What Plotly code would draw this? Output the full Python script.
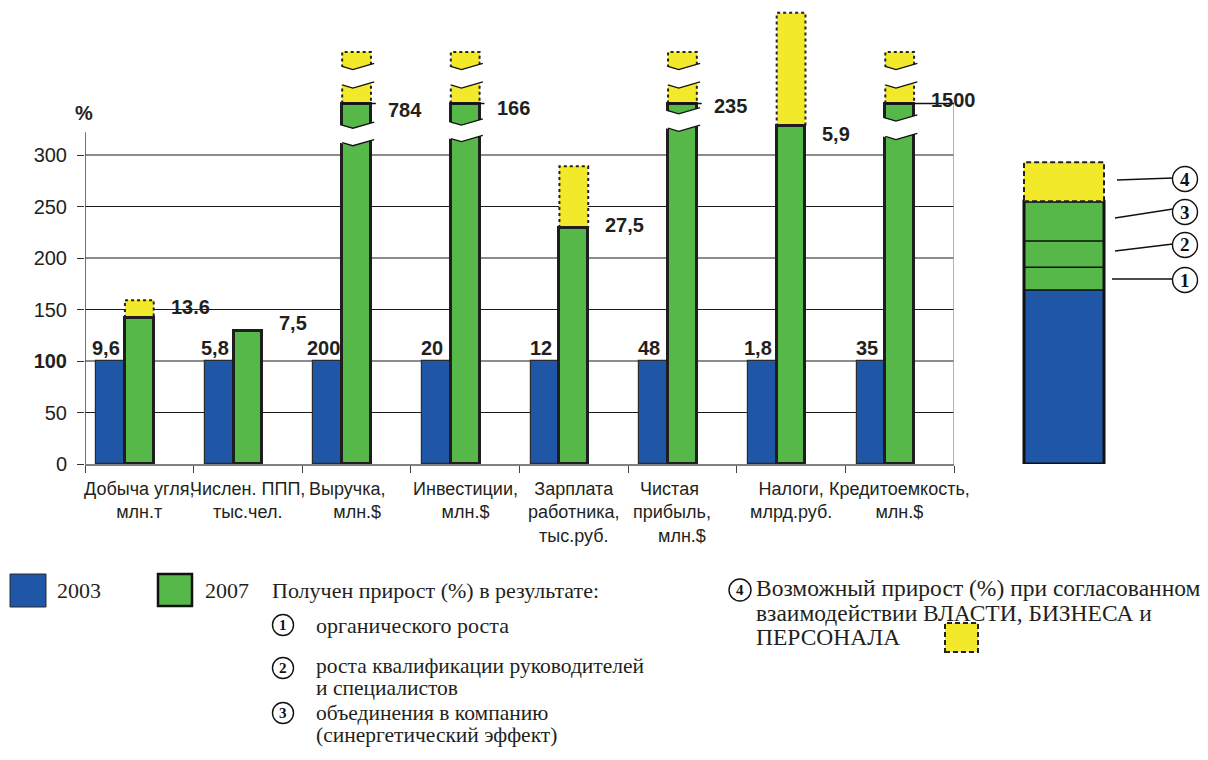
import plotly.graph_objects as go

# --- data -----------------------------------------------------------------
categories = [
    "Добыча угля,<br>млн.т",
    "Числен. ППП,<br>тыс.чел.",
    "Выручка,<br>млн.$",
    "Инвестиции,<br>млн.$",
    "Зарплата<br>работника,<br>тыс.руб.",
    "Чистая<br>прибыль,<br>млн.$",
    "Налоги,<br>млрд.руб.",
    "Кредитоемкость,<br>млн.$",
]
values_2003 = [9.6, 5.8, 200, 20, 12, 48, 1.8, 35]
values_2007 = [13.6, 7.5, 784, 166, 27.5, 235, 5.9, 1500]
labels_2003 = ["9,6", "5,8", "200", "20", "12", "48", "1,8", "35"]
labels_2007 = ["13.6", "7,5", "784", "166", "27,5", "235", "5,9", "1500"]
# top of the possible-growth extension, % (broken columns end at 400 on the cut scale)
possible_top = [159, None, 400, 400, 289, 400, 438, 400]
y_ticks = [0, 50, 100, 150, 200, 250, 300]

# --- styling / layout constants -------------------------------------------
BLUE = "#1f56a5"
GREEN = "#55b848"
YELLOW = "#f2e92b"
INK = "#231f20"
SANS = "Liberation Sans, Arial, sans-serif"
SERIF = "Liberation Serif, Times New Roman, serif"

CAP = 350            # columns above this value are drawn cut
W = 0.265            # bar width in category units
PX_PER_UNIT = 1.03   # vertical pixels per percent
PLOT_L, PLOT_R, PLOT_B = 85, 954, 464
PLOT_W = PLOT_R - PLOT_L
Y_MAX = PLOT_B / PX_PER_UNIT

# break positions (lower, upper edge of the white gap) for cut columns
green_gap = {2: (312, 329), 3: (316, 332), 5: (326, 343), 7: (318, 336)}
yellow_gap = (368, 386)
label_dy = [11, 8, -6, -4, 3, -2, -8, 4]   # vertical nudge of 2007 labels, px
# trailing padding (non-breaking spaces) per line of a category label
label_pad = {2: [4, 0], 5: [5, 4, 0]}

base_2003 = [100.0] * len(values_2003)
pct_2007 = [b / a * 100 for a, b in zip(values_2003, values_2007)]
shown = [min(p, CAP) for p in pct_2007]
broken = [p > CAP for p in pct_2007]

n = len(categories)
xc = [i + 0.5 for i in range(n)]
xb = [c - W for c in xc]


def xp(px):
    return (px - PLOT_L) / PLOT_W


def yp(py):
    return (PLOT_B - py) / PLOT_B


fig = go.Figure()

# yellow extension (fill only; dotted outline drawn separately)
yx, yb, yh = [], [], []
for i in range(n):
    if possible_top[i] is not None:
        yx.append(xc[i])
        yb.append(shown[i])
        yh.append(possible_top[i] - shown[i])
fig.add_trace(go.Bar(x=yx, y=yh, base=yb, width=W, marker=dict(color=YELLOW, line=dict(width=0)),
                     hoverinfo="skip", showlegend=False))

fig.add_trace(go.Bar(x=xb, y=base_2003, width=W, name="2003",
                     marker=dict(color=BLUE, line=dict(color="#2b2b2b", width=1.2)), showlegend=False))
fig.add_trace(go.Bar(x=xc, y=shown, width=W, name="2007",
                     marker=dict(color=GREEN, line=dict(color="#1e1e1e", width=3)), showlegend=False))

# dotted outline of the yellow extensions
ox, oy = [], []
for i in range(n):
    if possible_top[i] is None:
        continue
    l, r = xc[i] - W / 2, xc[i] + W / 2
    ox += [l, l, r, r, None]
    oy += [shown[i], possible_top[i], possible_top[i], shown[i], None]
fig.add_trace(go.Scatter(x=ox, y=oy, mode="lines", line=dict(color="#222", width=2, dash="3px,3px"),
                         hoverinfo="skip", showlegend=False))


def zig(l, r, y):
    return [l, l + 0.37 * (r - l), r + 0.03], [y, y - 3, y + 3]


# white gaps and zigzag edges of the cut columns
gx, gy, zx, zy, tx, ty = [], [], [], [], [], []
for i in range(n):
    if not broken[i]:
        continue
    l, r = xc[i] - W / 2, xc[i] + W / 2
    for lo, hi in (green_gap[i], yellow_gap):
        lx, ly = zig(l, r, lo)
        ux, uy = zig(l, r, hi)
        gx += [l - 0.022] + lx[1:] + ux[::-1][:-1] + [l - 0.022, None]
        gy += [ly[0]] + ly[1:] + uy[::-1][:-1] + [uy[0], None]
        zx += lx + [None] + ux + [None]
        zy += ly + [None] + uy + [None]
    tx += [l, 8 if i == n - 1 else r + 0.045, None]
    ty += [CAP, CAP, None]
fig.add_trace(go.Scatter(x=gx, y=gy, mode="lines", fill="toself", fillcolor="white",
                         line=dict(width=0, color="white"), hoverinfo="skip", showlegend=False))
fig.add_trace(go.Scatter(x=zx, y=zy, mode="lines", line=dict(color="#111", width=1.3),
                         hoverinfo="skip", showlegend=False))
fig.add_trace(go.Scatter(x=tx, y=ty, mode="lines", line=dict(color="#111", width=1.5),
                         hoverinfo="skip", showlegend=False))

shapes = []
# horizontal grid: heavier grey at hundreds, thin black at fifties
for v in y_ticks[1:]:
    heavy = v % 100 == 0
    shapes.append(dict(type="line", xref="x", yref="y", x0=0, x1=8, y0=v, y1=v, layer="below",
                       line=dict(color="#8c8c8c" if heavy else "#1a1a1a", width=2 if heavy else 1)))
# value axis line and right border
shapes.append(dict(type="line", xref="x", yref="y", x0=0, x1=0, y0=0, y1=322, layer="below",
                   line=dict(color="#444", width=1.5)))
shapes.append(dict(type="line", xref="x", yref="y", x0=8, x1=8, y0=0, y1=CAP, layer="below",
                   line=dict(color="#9a9a9a", width=1.5)))

# schematic column at the right (shares the percent scale)
sl, sr = xp(1024), xp(1104)
scheme = [(0, 169, BLUE), (169, 255, GREEN)]
for lo, hi, c in scheme:
    shapes.append(dict(type="rect", xref="paper", yref="y", x0=sl, x1=sr, y0=lo, y1=hi,
                       fillcolor=c, line=dict(width=0)))
for v in (169, 191, 216.5):
    shapes.append(dict(type="line", xref="paper", yref="y", x0=sl, x1=sr, y0=v, y1=v,
                       line=dict(color="#111", width=1.5)))
shapes.append(dict(type="rect", xref="paper", yref="y", x0=sl, x1=sr, y0=0, y1=255,
                   line=dict(color="#111", width=3)))
shapes.append(dict(type="rect", xref="paper", yref="y", x0=sl, x1=sr, y0=255, y1=293,
                   fillcolor=YELLOW, line=dict(color="#222", width=2, dash="5px,3px")))

annotations = []


def circle(cx, cy, r, num, size):
    shapes.append(dict(type="circle", xref="paper", yref="paper",
                       x0=xp(cx - r), x1=xp(cx + r), y0=yp(cy + r), y1=yp(cy - r),
                       fillcolor="white", line=dict(color="#111", width=1.4)))
    annotations.append(dict(xref="paper", yref="paper", x=xp(cx), y=yp(cy), text=f"<b>{num}</b>",
                            showarrow=False, xanchor="center", yanchor="middle",
                            font=dict(family=SERIF, size=size, color="#111")))


def leader(x0, y0, x1, y1):
    shapes.append(dict(type="line", xref="paper", yref="paper", x0=xp(x0), x1=xp(x1),
                       y0=yp(y0), y1=yp(y1), line=dict(color="#111", width=1.3)))


leader(1117, 180, 1173, 178)
leader(1115, 218, 1173, 209)
leader(1115, 251, 1173, 244)
leader(1112, 279, 1173, 279)
circle(1185, 179, 12.5, 4, 19)
circle(1185, 212, 12.5, 3, 19)
circle(1185, 245, 12.5, 2, 19)
circle(1185, 280, 12.5, 1, 19)

# legend at the bottom
shapes.append(dict(type="rect", xref="paper", yref="paper", x0=xp(10), x1=xp(46), y0=yp(607), y1=yp(574),
                   fillcolor=BLUE, line=dict(color="#2b2b2b", width=1)))
shapes.append(dict(type="rect", xref="paper", yref="paper", x0=xp(158), x1=xp(192), y0=yp(606), y1=yp(574),
                   fillcolor=GREEN, line=dict(color="#111", width=2.5)))
shapes.append(dict(type="rect", xref="paper", yref="paper", x0=xp(945), x1=xp(978), y0=yp(652), y1=yp(623),
                   fillcolor=YELLOW, line=dict(color="#222", width=2, dash="5px,3px")))


def text(px, py, s, size=22, family=SERIF):
    annotations.append(dict(xref="paper", yref="paper", x=xp(px), y=yp(py), text=s, showarrow=False,
                            xanchor="left", yanchor="middle", font=dict(family=family, size=size, color=INK)))


text(55, 590, "2003")
text(203, 590, "2007")
text(270, 590, "Получен прирост (%) в результате:")
circle(283, 625, 10.5, 1, 15)
text(314, 625, "органического роста")
circle(283, 668, 10.5, 2, 15)
text(314, 666, "роста квалификации руководителей", 21.5)
text(314, 688, "и специалистов", 21.5)
circle(283, 713, 10.5, 3, 15)
text(314, 713, "объединения в компанию", 21.5)
text(314, 735, "(синергетический эффект)", 21.5)
circle(740, 590, 11, 4, 15)
text(754, 588, "Возможный прирост (%) при согласованном", 23.5)
text(754, 612.5, "взаимодействии ВЛАСТИ, БИЗНЕСА и", 23.5)
text(754, 637, "ПЕРСОНАЛА", 23.5)

# axis caption
annotations.append(dict(xref="paper", yref="paper", x=xp(84), y=yp(113), text="<b>%</b>", showarrow=False,
                        xanchor="center", yanchor="middle", font=dict(family=SANS, size=20, color=INK)))

# category labels under the axis
for i, c in enumerate(categories):
    lines = c.split("<br>")
    pads = label_pad.get(i, [0] * len(lines))
    c = "<br>".join(s + "\u00a0" * p for s, p in zip(lines, pads))
    annotations.append(dict(xref="x", yref="y", x=xc[i], y=0, text=c, showarrow=False,
                            xanchor="center", yanchor="top", yshift=-13, align="center",
                            font=dict(family=SANS, size=18, color=INK)))

# value labels
for i in range(n):
    annotations.append(dict(xref="x", yref="y", x=xb[i] - 0.04, y=base_2003[i], text=f"<b>{labels_2003[i]}</b>",
                            showarrow=False, xanchor="center", yanchor="bottom", yshift=0,
                            font=dict(family=SANS, size=20, color=INK)))
    annotations.append(dict(xref="x", yref="y", x=xc[i] + W / 2, y=shown[i], text=f"<b>{labels_2007[i]}</b>",
                            showarrow=False, xanchor="left", yanchor="middle", xshift=15, yshift=label_dy[i],
                            font=dict(family=SANS, size=20, color=INK)))

fig.update_layout(
    width=1208, height=760,
    margin=dict(l=PLOT_L, r=1208 - PLOT_R, t=0, b=760 - PLOT_B, pad=0),
    paper_bgcolor="white", plot_bgcolor="white",
    barmode="overlay", bargap=0,
    shapes=shapes, annotations=annotations,
    xaxis=dict(range=[0, 8], tickvals=list(range(9)), ticks="outside", ticklen=7, tickwidth=1.3,
               tickcolor="#444", showticklabels=False, showgrid=False, zeroline=False,
               showline=True, linecolor="#808080", linewidth=2),
    yaxis=dict(range=[0, Y_MAX], tickvals=y_ticks,
               ticktext=[f"<b>{v}</b>" if v == 100 else str(v) for v in y_ticks],
               ticks="outside", ticklen=7, tickwidth=1.3, tickcolor="#333",
               tickfont=dict(family=SANS, size=20, color=INK), ticklabelstandoff=6,
               showgrid=False, zeroline=False, showline=False),
)

fig.write_html("out.html")
